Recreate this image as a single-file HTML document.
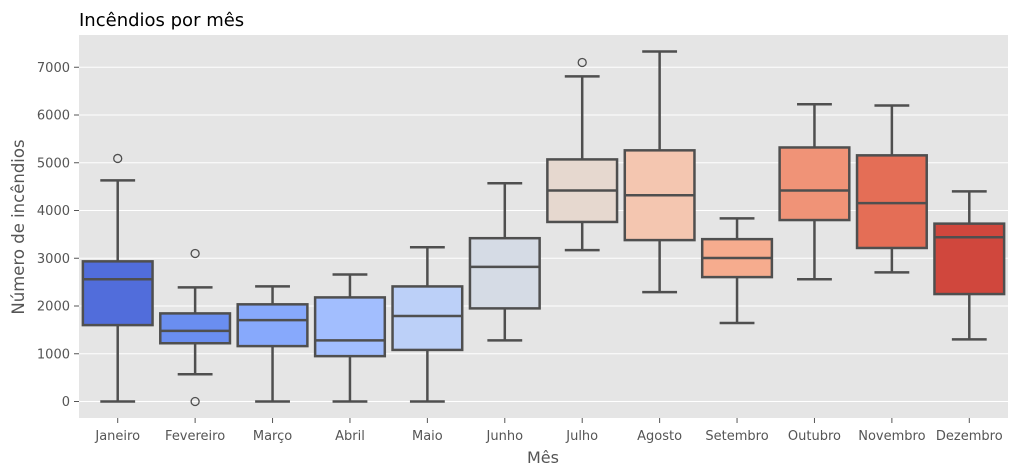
<!DOCTYPE html>
<html><head><meta charset="utf-8"><style>
body{margin:0;background:#fff;}
svg{display:block;font-family:"DejaVu Sans","Liberation Sans",sans-serif;}
</style></head><body>
<svg id="chart" width="1018" height="476" xmlns="http://www.w3.org/2000/svg">
<rect x="79" y="35" width="929" height="383" fill="#e5e5e5"/>
<g id="grid"></g><g id="yticks"></g><g id="xticks"></g><g id="boxes"></g>
<text x="79" y="26" font-size="18" fill="#000">Incêndios por mês</text>
<text x="543" y="463" font-size="16" fill="#555" text-anchor="middle">Mês</text>
<text transform="translate(24,227) rotate(-90)" font-size="16.5" fill="#555" text-anchor="middle">Número de incêndios</text>
</svg>
<script>
const months=["Janeiro","Fevereiro","Março","Abril","Maio","Junho","Julho","Agosto","Setembro","Outubro","Novembro","Dezembro"];
const whiskerLow=[0,570,0,0,0,1280,3170,2290,1645,2560,2705,1300];
const q1=[1600,1220,1160,950,1080,1950,3760,3380,2605,3800,3215,2250];
const median=[2560,1480,1705,1280,1790,2820,4420,4320,3005,4420,4155,3440];
const q3=[2935,1845,2035,2180,2410,3420,5070,5260,3400,5320,5155,3725];
const whiskerHigh=[4630,2390,2410,2660,3230,4570,6810,7330,3835,6225,6200,4400];
const outliers=[[5090],[3100,0],[],[],[],[],[7100],[],[],[],[],[]];
const colors=["#516ddb","#6a8ef0","#87a9fc","#a2befe","#bcd0f8","#d5dbe5","#e6d8cf","#f4c6b0","#f6ac8e","#f09377","#e46e56","#d0473d"];
const yTicks=[0,1000,2000,3000,4000,5000,6000,7000];
const NS="http://www.w3.org/2000/svg";
const X0=79,W=929,step=W/months.length;
const y=v=>401.5-v*0.04775;
const x=i=>X0+step*(i+0.5);
function mk(t,a,p){const e=document.createElementNS(NS,t);for(const k in a)e.setAttribute(k,a[k]);p.appendChild(e);return e;}
const grid=document.getElementById('grid'),yt=document.getElementById('yticks'),xt=document.getElementById('xticks'),bx=document.getElementById('boxes');
yTicks.forEach(v=>{
 const g=mk('line',{x1:79,x2:1008,y1:y(v),y2:y(v),stroke:'#fff','stroke-width':1},grid);
 
 
 const tk=mk('line',{x1:74,x2:79,y1:y(v),y2:y(v),stroke:'#555'},yt);
 
 
 const t=mk('text',{x:70,y:y(v)+4.5,'font-size':13,fill:'#555','text-anchor':'end'},yt);
 t.textContent=v;
 
 
});
const bw=step*0.9,sc='#4f4f4f',sw=2.5;
months.forEach((m,i)=>{
 const cx=x(i);
 const tk=mk('line',{x1:cx,x2:cx,y1:418,y2:423,stroke:'#555'},xt);
 
 
 const t=mk('text',{x:cx,y:440,'font-size':13,fill:'#555','text-anchor':'middle'},xt);
 t.textContent=m;
 
 
 const g=mk('g',{},bx);
 
 
 mk('line',{x1:cx,x2:cx,y1:y(whiskerLow[i]),y2:y(q1[i]),stroke:sc,'stroke-width':sw},g);
 mk('line',{x1:cx,x2:cx,y1:y(q3[i]),y2:y(whiskerHigh[i]),stroke:sc,'stroke-width':sw},g);
 mk('line',{x1:cx-bw/4,x2:cx+bw/4,y1:y(whiskerLow[i]),y2:y(whiskerLow[i]),stroke:sc,'stroke-width':sw},g);
 mk('line',{x1:cx-bw/4,x2:cx+bw/4,y1:y(whiskerHigh[i]),y2:y(whiskerHigh[i]),stroke:sc,'stroke-width':sw},g);
 mk('rect',{x:cx-bw/2,y:y(q3[i]),width:bw,height:y(q1[i])-y(q3[i]),fill:colors[i],stroke:sc,'stroke-width':sw},g);
 mk('line',{x1:cx-bw/2,x2:cx+bw/2,y1:y(median[i]),y2:y(median[i]),stroke:sc,'stroke-width':sw},g);
 outliers[i].forEach(v=>{
  const c=mk('circle',{cx:cx,cy:y(v),r:4,fill:'none',stroke:sc,'stroke-width':1.3},g);
  
  
 });
});
</script>
</body></html>
